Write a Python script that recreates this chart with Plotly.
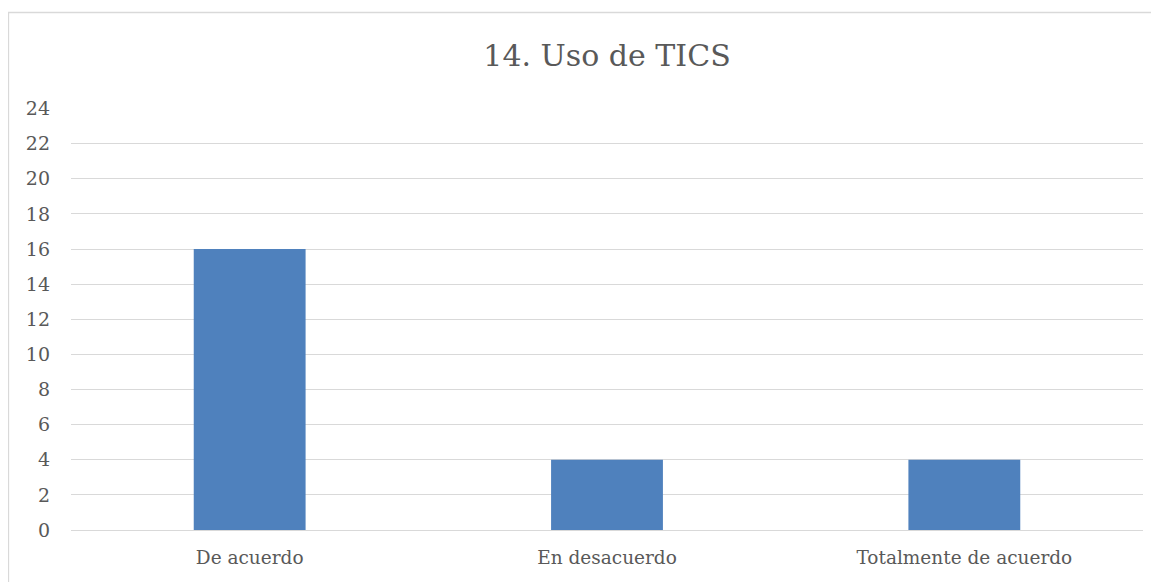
import plotly.graph_objects as go

categories = ["De acuerdo", "En desacuerdo", "Totalmente de acuerdo"]
values = [16, 4, 4]
y_ticks = list(range(0, 25, 2))

W, H = 1159, 582
OFF = 8  # page body margin offset
L, R, T, B = 71 - OFF, 16 + OFF, 108 - OFF, 52 + OFF
pw, ph = W - L - R, H - T - B

fig = go.Figure(go.Bar(x=categories, y=values, marker=dict(color="#4F81BD", line=dict(width=0)),
                       width=0.313))

font = "DejaVu Serif"
fig.update_layout(
    width=W, height=H,
    margin=dict(l=L, r=R, t=T, b=B, pad=0),
    paper_bgcolor="white", plot_bgcolor="white",
    font=dict(family=font, color="#595959"),
    title=dict(text="14. Uso de TICS", x=0.5, xanchor="center", xref="paper",
               y=1 - (55 - OFF) / H, yanchor="middle", yref="container",
               font=dict(size=30, family=font, color="#595959")),
    showlegend=False,
    xaxis=dict(showgrid=False, showline=True, linecolor="#D9D9D9", linewidth=1.3,
               ticks="", tickfont=dict(size=18.5, family=font, color="#595959"),
               ticklabelstandoff=11),
    yaxis=dict(range=[0, 24.03], tickvals=y_ticks, showgrid=True, gridcolor="#D9D9D9",
               gridwidth=1.3, zeroline=False, showline=False, ticks="",
               tickfont=dict(size=19, family=font, color="#595959"),
               ticklabelstandoff=20),
)

# outer chart-area border (top and left visible)
bx0, by0 = 8.5 - OFF, 12.5 - OFF
fig.add_shape(type="rect", xref="paper", yref="paper",
              x0=(bx0 - L) / pw, x1=(W + 40 - L) / pw,
              y0=-(B + 40) / ph, y1=(H - by0 - B) / ph,
              line=dict(color="#D9D9D9", width=1.3), layer="below")

fig.write_html("out.html")
